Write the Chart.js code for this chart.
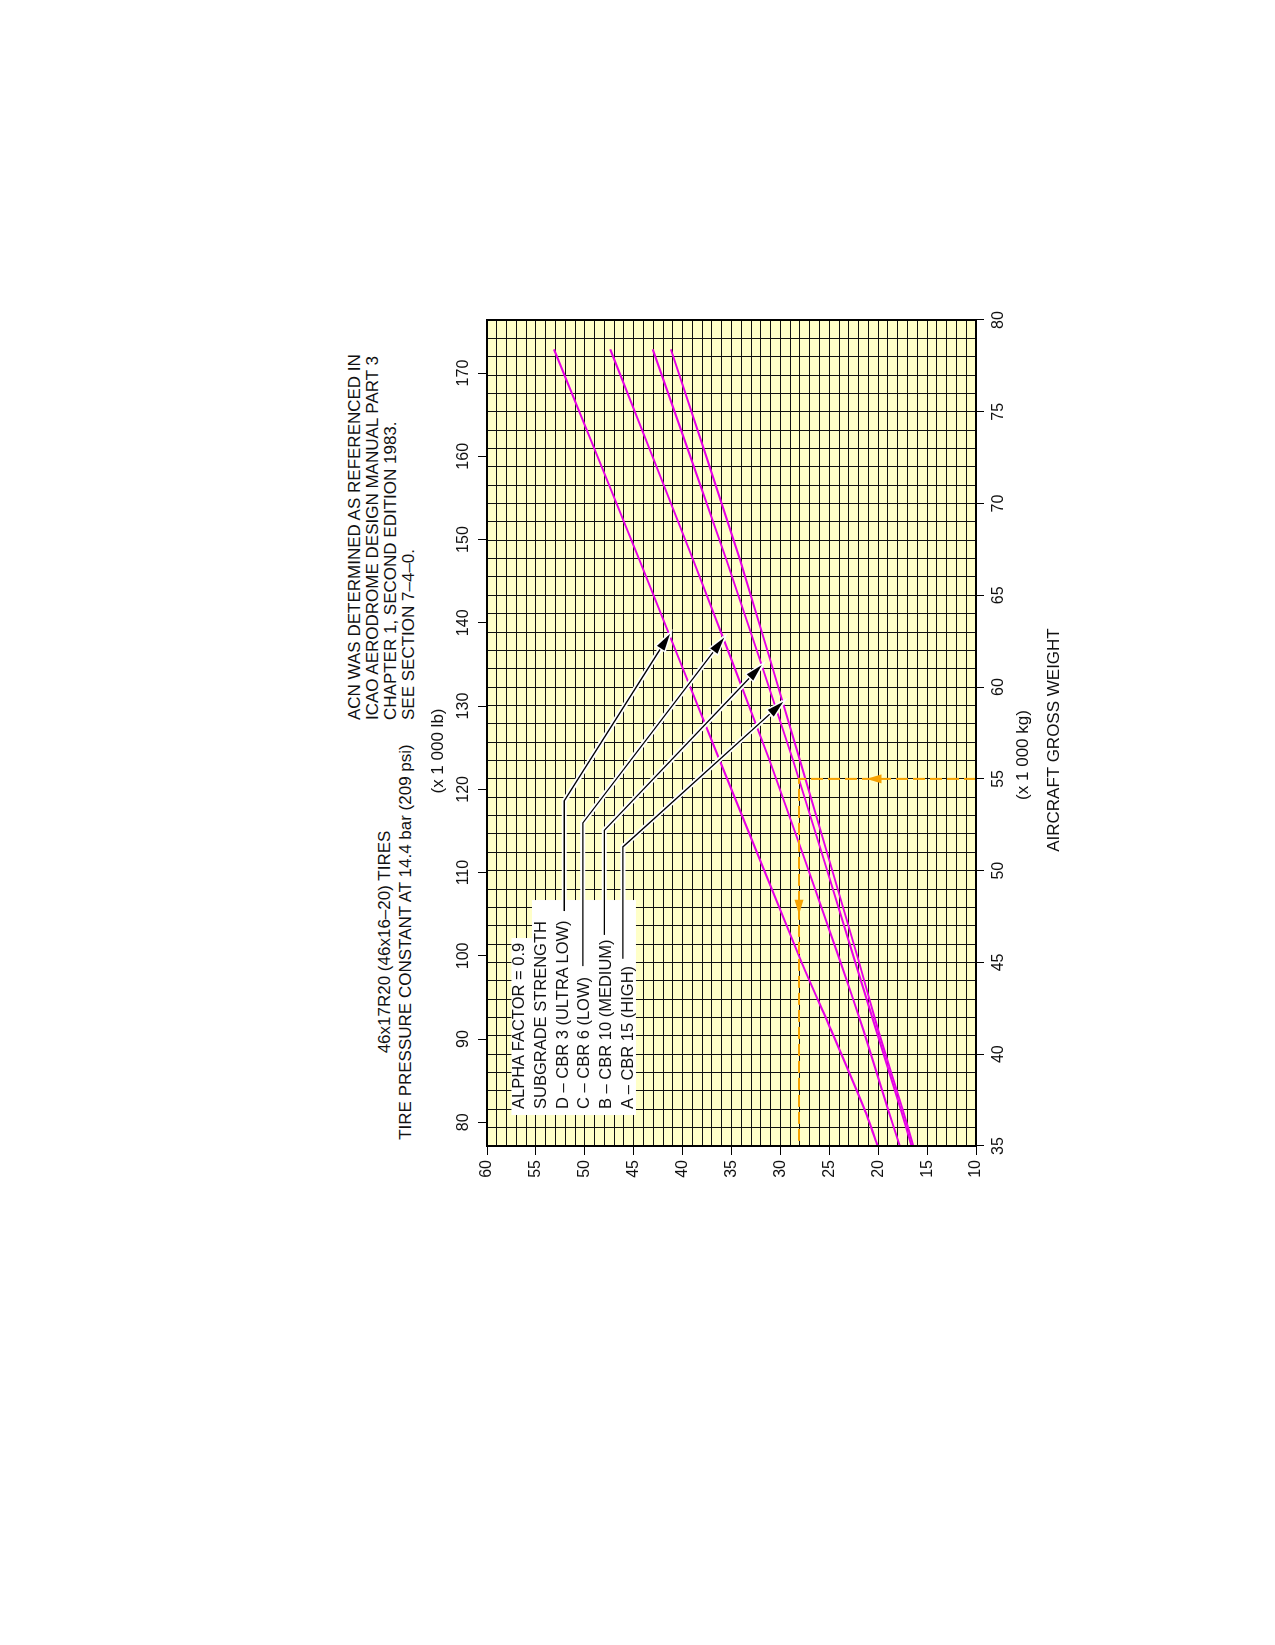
<!DOCTYPE html>
<html>
<head>
<meta charset="utf-8">
<title>ACN chart - 46x17R20 tires</title>
<script src="https://cdn.jsdelivr.net/npm/chart.js@4.4.0/dist/chart.umd.min.js"></script>
<style>
  html, body { margin: 0; padding: 0; background: #fff; width: 1275px; height: 1645px; overflow: hidden;
               font-family: "Liberation Sans", Arial, sans-serif; }
  /* the whole sheet is laid out upright and turned a quarter turn */
  #page { position: absolute; left: -185px; top: 185px; width: 1645px; height: 1275px;
          transform: rotate(-90deg); transform-origin: 822.5px 637.5px; }
  .txt { position: absolute; font-size: 17px; line-height: 18px; white-space: nowrap; color: #111; }
  .c { width: 600px; text-align: center; }
  .leg { font-size: 16.5px; line-height: 20px; }
  #chartBox { position: absolute; left: 439px; top: 437px; width: 906px; height: 589px; }
</style>
</head>
<body>
<div id="page">
  <div id="chartBox"><canvas id="acnChart" width="906" height="589"></canvas></div>

  <div class="txt c" style="left:403px;top:376px;">46x17R20 (46x16–20) TIRES</div>
  <div class="txt c" style="left:403px;top:397px;">TIRE PRESSURE CONSTANT AT 14.4 bar (209 psi)</div>
  <div class="txt" style="left:925px;top:346px;">ACN WAS DETERMINED AS REFERENCED IN<br>ICAO AERODROME DESIGN MANUAL PART 3<br>CHAPTER 1, SECOND EDITION 1983.<br>SEE SECTION 7–4–0.</div>
  <div class="txt c" style="left:594px;top:429px;">(x 1 000 lb)</div>
  <div class="txt c" style="left:590px;top:1014px;">(x 1 000 kg)</div>
  <div class="txt c" style="left:605px;top:1045px;">AIRCRAFT GROSS WEIGHT</div>

  <div class="txt leg" style="left:536px;top:508px;">ALPHA FACTOR = 0.9</div>
  <div class="txt leg" style="left:536px;top:530px;">SUBGRADE STRENGTH</div>
  <div class="txt leg" style="left:536px;top:552px;">D – CBR 3 (ULTRA LOW)</div>
  <div class="txt leg" style="left:536px;top:573px;">C – CBR 6 (LOW)</div>
  <div class="txt leg" style="left:536px;top:595px;">B – CBR 10 (MEDIUM)</div>
  <div class="txt leg" style="left:536px;top:617px;">A – CBR 15 (HIGH)</div>
</div>

<script>
// ACN vs gross weight
const weightKg = [35, 37, 41.3, 45.1, 56, 66.9, 78.4];   // x 1000 kg
const acnCbr3  = [20.05, 21.4, 24.8, 27.9, 36.2, 44.4, 53.15];
const acnCbr6  = [17.8, 19.0, 21.5, 23.9, 31.1, 38.9, 47.4];
const acnCbr10 = [16.6, 17.7, 20.2, 22.4, 28.7, 35.5, 43.05];
const acnCbr15 = [16.4, 17.5, 20.0, 22.0, 28.0, 34.1, 41.2];

// worked example (orange)
const exampleKg  = [55, 55, 35];
const exampleAcn = [10, 28.1, 28.1];
const exampleArrowUp   = [[55, 19.6], [55, 21.2]];
const exampleArrowLeft = [[48.4, 28.1], [47.6, 28.1]];

// leader lines from the legend to the curves [kg, acn]
const leaderCbr3  = [[47.8, 52.1], [53.8, 52.1], [62.9, 41.3]];
const leaderCbr6  = [[44.8, 50.2], [52.6, 50.2], [62.7, 35.75]];
const leaderCbr10 = [[46.5, 48.0], [52.2, 48.0], [61.2, 31.9]];
const leaderCbr15 = [[45.2, 46.1], [51.3, 46.1], [59.2, 29.7]];

const kgAxis  = { min: 35, max: 80, step: 1, labelEvery: 5 };
const acnAxis = { min: 10, max: 60, step: 1, labelEvery: 5 };
const lbStep = 10;
const KG_PER_LB = 0.45359237;

const magenta = '#E600E6';
const orange = '#F7A200';

function series(xs, ys) { return xs.map((x, i) => ({ x: x, y: ys[i] })); }
function pairs(list) { return list.map(p => ({ x: p[0], y: p[1] })); }

function curve(label, ys) {
    return { label: label, data: series(weightKg, ys), showLine: true, borderColor: magenta,
             borderWidth: 2, pointRadius: 0, tension: 0.2, order: 6 };
}
function leaderHalo(list) {
    return { data: pairs(list), showLine: true, borderColor: '#fff', borderWidth: 5,
             pointRadius: 0, tension: 0, order: 3 };
}
function leaderLine(list) {
    return { data: pairs(list), showLine: true, borderColor: '#000', borderWidth: 1.3,
             pointRadius: 0, tension: 0, order: 2,
             arrow: { color: '#000', length: 17, width: 9, halo: true } };
}
function arrowOnly(list) {
    return { data: pairs(list), showLine: false, pointRadius: 0, order: 1,
             arrow: { color: orange, length: 15, width: 9, halo: false } };
}

const plotBackground = {
    id: 'plotBackground',
    beforeDraw(chart) {
        const { ctx, chartArea: a } = chart;
        ctx.save();
        ctx.fillStyle = '#FFFFC8';
        ctx.fillRect(a.left, a.top, a.width, a.height);
        ctx.restore();
    }
};

// white panel behind the legend text
const legendPanel = {
    id: 'legendPanel',
    beforeDatasetsDraw(chart) {
        const x = chart.scales.x, y = chart.scales.y, ctx = chart.ctx;
        const rects = [[36.69, 48.4, 55.4, 44.77], [36.69, 46.33, 57.5, 55.4]];
        ctx.save();
        ctx.fillStyle = '#fff';
        rects.forEach(r => {
            const x0 = x.getPixelForValue(r[0]), x1 = x.getPixelForValue(r[1]);
            const y0 = y.getPixelForValue(r[2]), y1 = y.getPixelForValue(r[3]);
            ctx.fillRect(x0, y0, x1 - x0, y1 - y0);
        });
        ctx.restore();
    }
};

const arrowHeads = {
    id: 'arrowHeads',
    afterDatasetsDraw(chart) {
        const ctx = chart.ctx;
        chart.data.datasets.forEach((ds, i) => {
            if (!ds.arrow) return;
            const pts = chart.getDatasetMeta(i).data;
            const a = pts[pts.length - 2], b = pts[pts.length - 1];
            const ang = Math.atan2(b.y - a.y, b.x - a.x);
            const L = ds.arrow.length, W = ds.arrow.width;
            ctx.save();
            ctx.translate(b.x, b.y);
            ctx.rotate(ang);
            ctx.beginPath();
            ctx.moveTo(0, 0);
            ctx.lineTo(-L, W / 2);
            ctx.lineTo(-L, -W / 2);
            ctx.closePath();
            if (ds.arrow.halo) {
                ctx.strokeStyle = '#fff';
                ctx.lineWidth = 3;
                ctx.stroke();
            }
            ctx.fillStyle = ds.arrow.color;
            ctx.fill();
            ctx.restore();
        });
    }
};

const plotFrame = {
    id: 'plotFrame',
    afterDraw(chart) {
        const { ctx, chartArea: a } = chart;
        ctx.save();
        ctx.strokeStyle = '#000';
        ctx.lineWidth = 2;
        ctx.strokeRect(a.left, a.top, a.width, a.height);
        ctx.restore();
    }
};

const tickFont = { family: '"Liberation Sans", Arial, sans-serif', size: 16 };
const majorTick = every => (c => (c.tick && Math.abs(c.tick.value % every) < 1e-6) ? '#000' : 'rgba(0,0,0,0)');

new Chart(document.getElementById('acnChart'), {
    type: 'scatter',
    data: {
        datasets: [
            curve('D - CBR 3', acnCbr3),
            curve('C - CBR 6', acnCbr6),
            curve('B - CBR 10', acnCbr10),
            curve('A - CBR 15', acnCbr15),
            { data: series(exampleKg, exampleAcn), showLine: true, borderColor: orange, borderWidth: 2,
              borderDash: [12, 5], pointRadius: 0, tension: 0, order: 5 },
            arrowOnly(exampleArrowUp),
            arrowOnly(exampleArrowLeft),
            leaderHalo(leaderCbr3), leaderHalo(leaderCbr6), leaderHalo(leaderCbr10), leaderHalo(leaderCbr15),
            leaderLine(leaderCbr3), leaderLine(leaderCbr6), leaderLine(leaderCbr10), leaderLine(leaderCbr15)
        ]
    },
    options: {
        responsive: false,
        animation: false,
        events: [],
        layout: { padding: { left: 0, right: 20, top: 0, bottom: 0 } },
        plugins: { legend: { display: false }, tooltip: { enabled: false } },
        scales: {
            x: {
                type: 'linear', position: 'bottom', min: kgAxis.min, max: kgAxis.max,
                border: { display: false },
                grid: { color: '#111', lineWidth: 1, tickLength: 8, tickColor: majorTick(kgAxis.labelEvery) },
                ticks: { stepSize: kgAxis.step, autoSkip: false, maxRotation: 0, minRotation: 0, padding: 5,
                         color: '#111', font: tickFont,
                         callback: v => (v % kgAxis.labelEvery === 0 ? v : '') },
                afterFit: s => { s.height = 50; }
            },
            lb: {
                type: 'linear', position: 'top', min: kgAxis.min / KG_PER_LB, max: kgAxis.max / KG_PER_LB,
                border: { display: false },
                grid: { drawOnChartArea: false, tickLength: 9, tickColor: '#000' },
                ticks: { stepSize: lbStep, includeBounds: false, autoSkip: false, maxRotation: 0, minRotation: 0,
                         padding: 5, color: '#111', font: tickFont },
                afterFit: s => { s.height = 50; }
            },
            y: {
                type: 'linear', position: 'left', min: acnAxis.min, max: acnAxis.max,
                border: { display: false },
                grid: { color: '#111', lineWidth: 1, tickLength: 9, tickColor: majorTick(acnAxis.labelEvery) },
                ticks: { stepSize: acnAxis.step, autoSkip: false, padding: 5, color: '#111', font: tickFont,
                         callback: v => (v % acnAxis.labelEvery === 0 ? v : '') },
                afterFit: s => { s.width = 60; }
            }
        }
    },
    plugins: [plotBackground, legendPanel, arrowHeads, plotFrame]
});
</script>
</body>
</html>
